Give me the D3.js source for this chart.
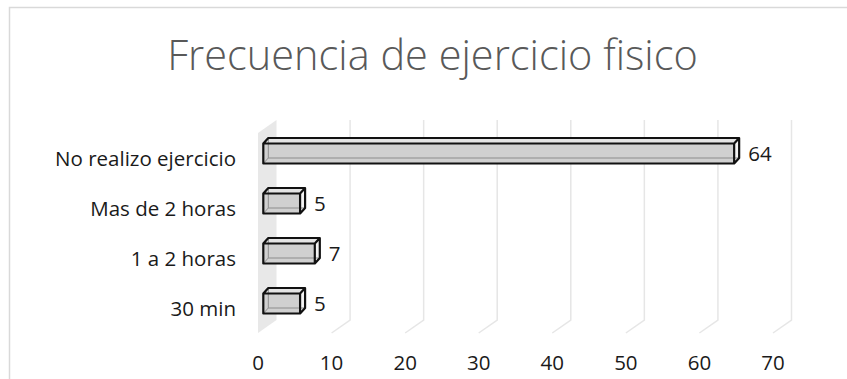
<!DOCTYPE html>
<html>
<head>
<meta charset="utf-8">
<script src="https://cdn.jsdelivr.net/npm/d3@7"></script>
<style>
  html, body { margin: 0; padding: 0; background: #fff; }
  svg { display: block; }
</style>
</head>
<body>
<svg id="chart" width="847" height="379"></svg>
<script>
// Exercise frequency survey, bottom category first
const categories = ["30 min", "1 a 2 horas", "Mas de 2 horas", "No realizo ejercicio"];
const values = [5, 7, 5, 64];
const tickValues = [0, 10, 20, 30, 40, 50, 60, 70];
const titleText = "Frecuencia de ejercicio fisico";

const svg = d3.select("#chart");
const W = 847, H = 379;
const FONT = "'Open Sans', sans-serif";
const LABEL_SIZE = 20.5;

// chart frame
svg.append("rect")
  .attr("x", 9.5).attr("y", 7.5)
  .attr("width", W + 20).attr("height", H + 20)
  .attr("fill", "#fff").attr("stroke", "#d9d9d9").attr("stroke-width", 1.5);

svg.append("text")
  .attr("x", 432.5).attr("y", 70)
  .attr("text-anchor", "middle")
  .attr("font-family", FONT)
  .attr("font-weight", 300)
  .attr("font-size", 41.5)
  .attr("fill", "#595959")
  .text(titleText);

// front plane of the 3D plot area
const floorFront = 333, plotTop = 133;
const x = d3.scaleLinear().domain([0, 70]).range([258, 773]);
const y = d3.scaleBand().domain(categories).range([floorFront, plotTop])
  .paddingInner(0.6).paddingOuter(0.3);

// depth vector from front plane to back wall
const D = { dx: 18.5, dy: -13 };
// bar placement within the depth, and bar thickness in depth
const B0 = { dx: 5.3, dy: -4.5 };
const BD = { dx: 5, dy: -5.5 };

const g = svg.append("g");

// side wall at zero
g.append("path")
  .attr("d", d3.line()([
    [x(0), floorFront], [x(0) + D.dx, floorFront + D.dy],
    [x(0) + D.dx, plotTop + D.dy], [x(0), plotTop]
  ]) + "Z")
  .attr("fill", "#e8e8e8");

// gridlines: vertical on the back wall, diagonal across the floor
tickValues.filter(t => t > 0).forEach(t => {
  g.append("path")
    .attr("d", d3.line()([
      [x(t) + D.dx, plotTop + D.dy],
      [x(t) + D.dx, floorFront + D.dy],
      [x(t), floorFront]
    ]))
    .attr("fill", "none")
    .attr("stroke", "#e6e6e6")
    .attr("stroke-width", 1.5);
});

// tick labels along the front edge of the floor
g.selectAll("text.tick")
  .data(tickValues)
  .join("text")
  .attr("class", "tick")
  .attr("x", d => x(d))
  .attr("y", 369.5)
  .attr("text-anchor", "middle")
  .attr("font-family", FONT)
  .attr("font-size", LABEL_SIZE)
  .attr("fill", "#1a1a1a")
  .text(d => d);

// category labels
g.selectAll("text.cat")
  .data(categories)
  .join("text")
  .attr("class", "cat")
  .attr("x", 236)
  .attr("y", d => y(d) + y.bandwidth() / 2 + 7.5)
  .attr("text-anchor", "end")
  .attr("font-family", FONT)
  .attr("font-size", LABEL_SIZE)
  .attr("fill", "#1a1a1a")
  .text(d => d);

// 3D bars
const data = categories.map((c, i) => ({ c, v: values[i] }));
data.forEach(d => {
  const x0 = x(0) + B0.dx, x1 = x(d.v) + B0.dx;
  const t = y(d.c) + B0.dy, b = t + y.bandwidth();
  const bx = BD.dx, by = BD.dy;
  const bg = g.append("g");

  // top face
  bg.append("path")
    .attr("d", d3.line()([[x0, t], [x0 + bx, t + by], [x1 + bx, t + by], [x1, t]]) + "Z")
    .attr("fill", "#e4e4e4");
  // end face
  bg.append("path")
    .attr("d", d3.line()([[x1, t], [x1 + bx, t + by], [x1 + bx, b + by], [x1, b]]) + "Z")
    .attr("fill", "#f4f4f4");
  // front face
  bg.append("rect")
    .attr("x", x0).attr("y", t)
    .attr("width", x1 - x0).attr("height", b - t)
    .attr("fill", "#d0d0d0");

  // hidden edges seen through the box
  bg.append("path")
    .attr("d", d3.line()([[x0 + bx, t + by], [x0 + bx, b + by], [x1 + bx, b + by]]) +
               "M" + x0 + "," + b + "L" + (x0 + bx) + "," + (b + by))
    .attr("fill", "none")
    .attr("stroke", "#8c8c8c")
    .attr("stroke-width", 1);

  // visible outline
  bg.append("path")
    .attr("d",
      d3.line()([[x0, b], [x0, t], [x0 + bx, t + by], [x1 + bx, t + by], [x1 + bx, b + by], [x1, b]]) + "Z" +
      "M" + x0 + "," + t + "L" + x1 + "," + t + "L" + (x1 + bx) + "," + (t + by) +
      "M" + x1 + "," + t + "L" + x1 + "," + b)
    .attr("fill", "none")
    .attr("stroke", "#111")
    .attr("stroke-width", 2.2)
    .attr("stroke-linejoin", "round");

  // value label
  g.append("text")
    .attr("x", x1 + 14)
    .attr("y", (t + b) / 2 + 7.3)
    .attr("font-family", FONT)
    .attr("font-size", LABEL_SIZE)
    .attr("fill", "#1a1a1a")
    .text(d.v);
});
</script>
</body>
</html>
